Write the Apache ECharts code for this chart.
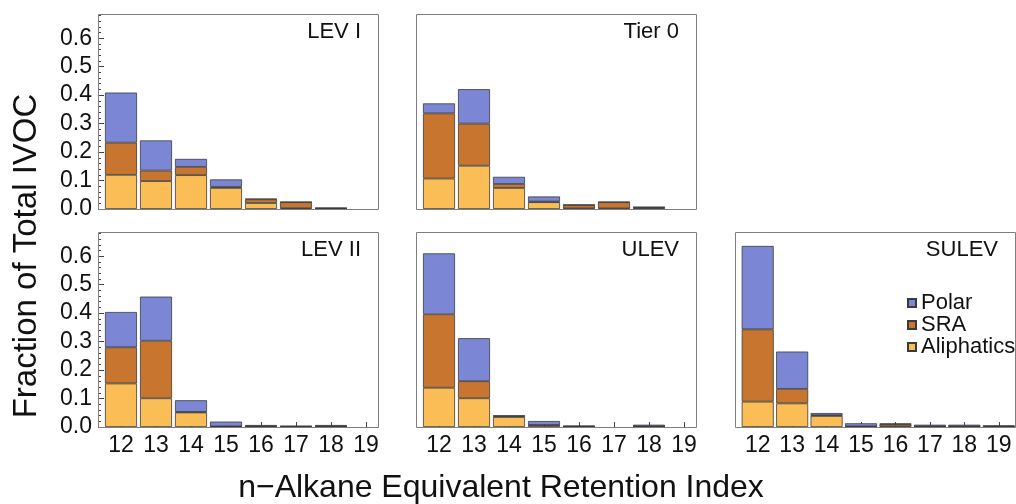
<!DOCTYPE html>
<html>
<head>
<meta charset="utf-8">
<script src="https://cdn.jsdelivr.net/npm/echarts@6/dist/echarts.min.js"></script>
<style>
  html, body { margin: 0; padding: 0; background: #fff; }
  #chart { width: 1016px; height: 504px; }
</style>
</head>
<body>
<div id="chart"></div>
<script>
// Retention-index bins (n-alkane equivalents)
const indices = ['12', '13', '14', '15', '16', '17', '18', '19'];
const yTicks = [0, 0.1, 0.2, 0.3, 0.4, 0.5, 0.6];

// Fraction of total IVOC per bin, by compound class
const lev1Aliphatics = [0.120, 0.098, 0.119, 0.074, 0.021, 0.003, 0.001, 0];
const lev1SRA        = [0.113, 0.037, 0.029, 0.004, 0.013, 0.021, 0.002, 0];
const lev1Polar      = [0.176, 0.106, 0.028, 0.026, 0.002, 0.001, 0.001, 0];

const tier0Aliphatics = [0.107, 0.152, 0.074, 0.024, 0.002, 0.002, 0.002, 0];
const tier0SRA        = [0.229, 0.148, 0.014, 0.002, 0.012, 0.022, 0.004, 0];
const tier0Polar      = [0.035, 0.121, 0.025, 0.018, 0.001, 0.001, 0.001, 0];

const lev2Aliphatics = [0.153, 0.101, 0.051, 0.001, 0.001, 0.001, 0.001, 0];
const lev2SRA        = [0.127, 0.202, 0.002, 0.001, 0.001, 0.001, 0.001, 0];
const lev2Polar      = [0.124, 0.155, 0.041, 0.017, 0.005, 0.002, 0.005, 0];

const ulevAliphatics = [0.138, 0.101, 0.035, 0.006, 0.001, 0, 0.001, 0];
const ulevSRA        = [0.258, 0.060, 0.004, 0.001, 0.001, 0, 0.001, 0];
const ulevPolar      = [0.214, 0.151, 0.001, 0.014, 0.003, 0, 0.006, 0];

const sulevAliphatics = [0.089, 0.083, 0.039, 0.001, 0.002, 0.001, 0.001, 0.001];
const sulevSRA        = [0.254, 0.051, 0.002, 0.001, 0.008, 0.001, 0.001, 0.002];
const sulevPolar      = [0.293, 0.131, 0.008, 0.011, 0.002, 0.006, 0.006, 0.002];

const FONT = "'Liberation Sans', Arial, sans-serif";
const COLORS = { Polar: '#7b87d4', SRA: '#c8762f', Aliphatics: '#fbbd55' };

const panels = [
  { name: 'LEV I',  left: 98,  top: 14,  yLabels: true,  xLabels: false, a: lev1Aliphatics,  s: lev1SRA,  p: lev1Polar },
  { name: 'Tier 0', left: 416, top: 14,  yLabels: false, xLabels: false, a: tier0Aliphatics, s: tier0SRA, p: tier0Polar },
  { name: 'LEV II', left: 98,  top: 232, yLabels: true,  xLabels: true,  a: lev2Aliphatics,  s: lev2SRA,  p: lev2Polar },
  { name: 'ULEV',   left: 416, top: 232, yLabels: false, xLabels: true,  a: ulevAliphatics,  s: ulevSRA,  p: ulevPolar },
  { name: 'SULEV',  left: 735, top: 232, yLabels: false, xLabels: true,  a: sulevAliphatics, s: sulevSRA, p: sulevPolar }
];
const PW = 280, PH = 195;
const SHIFT = 5.5;   // plotting area sits slightly right of the frame

const grid = [], xAxis = [], yAxis = [], series = [], graphic = [];

panels.forEach((pn, i) => {
  grid.push({ left: pn.left + SHIFT, top: pn.top, width: PW, height: PH });
  // panel frame
  graphic.push({
    type: 'rect', silent: true, z: 10,
    shape: { x: pn.left + 0.5, y: pn.top + 0.5, width: PW, height: PH },
    style: { fill: 'none', stroke: '#7f7f7f', lineWidth: 1 }
  });
  xAxis.push({
    type: 'category', gridIndex: i, data: indices,
    splitLine: { show: false },
    axisLine: { show: false },
    axisTick: { show: pn.xLabels, inside: true, length: 5, alignWithLabel: true,
                lineStyle: { color: '#444', width: 1 } },
    axisLabel: { show: pn.xLabels, margin: 7, interval: 0,
                 fontFamily: FONT, fontSize: 23, color: '#111' }
  });
  yAxis.push({
    type: 'value', gridIndex: i, min: 0, max: 0.685, interval: 0.1,
    offset: SHIFT,
    splitLine: { show: false },
    axisLine: { show: false },
    axisTick: { show: pn.yLabels, inside: true, length: 6, customValues: yTicks,
                lineStyle: { color: '#444', width: 1 } },
    minorTick: { show: pn.yLabels, splitNumber: 5, length: 3,
                 lineStyle: { color: '#444', width: 1 } },
    axisLabel: { show: pn.yLabels, customValues: yTicks, margin: 6,
                 fontFamily: FONT, fontSize: 23, color: '#111',
                 formatter: v => v.toFixed(1) }
  });
  const layers = [['Aliphatics', pn.a], ['SRA', pn.s], ['Polar', pn.p]];
  layers.forEach(([nm, vals]) => {
    series.push({
      type: 'bar', name: nm, xAxisIndex: i, yAxisIndex: i, stack: 'p' + i,
      barWidth: 32,
      itemStyle: { color: COLORS[nm], borderColor: '#3a3a3a', borderWidth: 0.8 },
      data: vals.map(v => v > 0 ? v : '-')
    });
  });
  graphic.push({
    type: 'text', x: pn.left + PW - 17, y: pn.top + 18,
    style: { text: pn.name, font: '22px ' + FONT, fill: '#111',
             textAlign: 'right', textVerticalAlign: 'middle' }
  });
});

// Axis titles
graphic.push({
  type: 'text', x: 27, y: 256, rotation: Math.PI / 2,
  style: { text: 'Fraction of Total IVOC', font: '33px ' + FONT, fill: '#111',
           textAlign: 'center', textVerticalAlign: 'middle' }
});
graphic.push({
  type: 'text', x: 501, y: 488,
  style: { text: 'n\u2212Alkane Equivalent Retention Index', font: '32px ' + FONT, fill: '#111',
           textAlign: 'center', textVerticalAlign: 'middle' }
});

const chart = echarts.init(document.getElementById('chart'), null, { renderer: 'canvas' });
chart.setOption({
  animation: false,
  backgroundColor: '#fff',
  grid, xAxis, yAxis, series, graphic,
  legend: {
    data: ['Polar', 'SRA', 'Aliphatics'],
    orient: 'vertical', left: 902, top: 287,
    icon: 'rect', itemWidth: 8, itemHeight: 8, itemGap: 0,
    textStyle: { fontFamily: FONT, fontSize: 22, lineHeight: 22, color: '#111' }
  }
});
</script>
</body>
</html>
